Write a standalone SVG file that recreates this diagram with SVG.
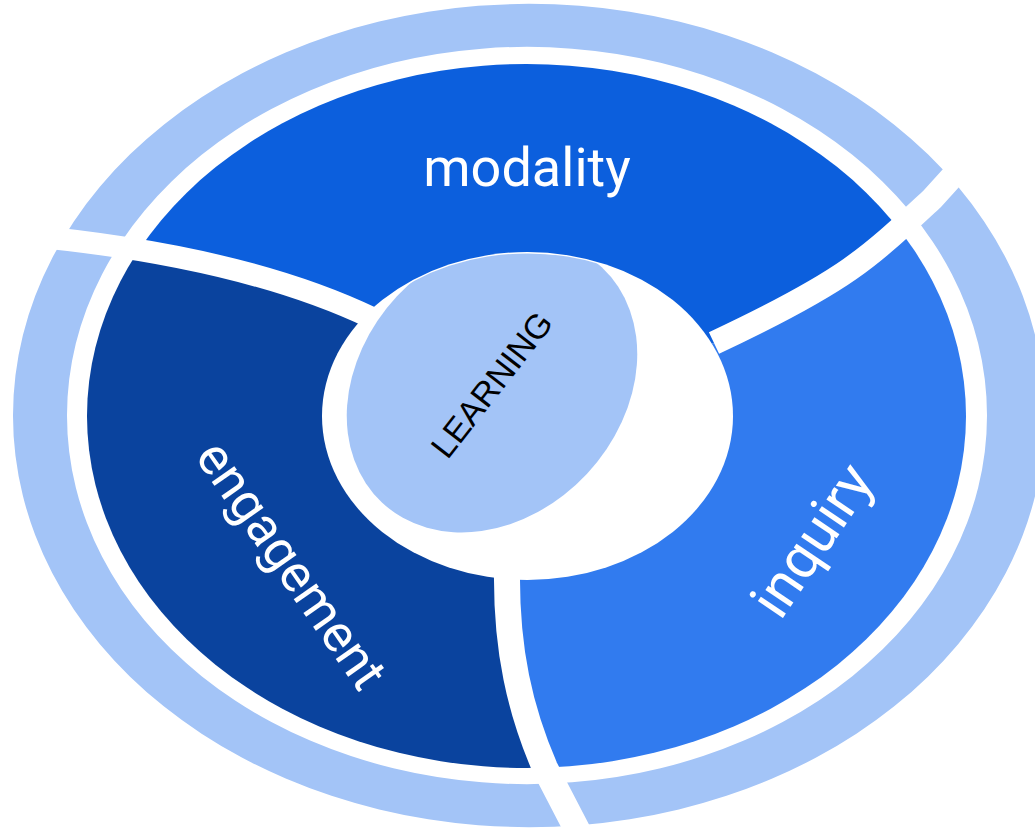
<svg xmlns="http://www.w3.org/2000/svg" width="1035" height="831" viewBox="0 0 1035 831">
<style>
.lbl{font-family:Roboto,"Liberation Sans",sans-serif;font-size:52px;fill:#ffffff;text-anchor:middle}
.gap{fill:none;stroke:#ffffff;stroke-linecap:butt}
</style>
<defs>
<clipPath id="innerClip"><ellipse cx="526.5" cy="416" rx="439.5" ry="352"/></clipPath>
<clipPath id="holeClip"><ellipse cx="527.5" cy="416" rx="204" ry="162.5"/></clipPath>
</defs>
<rect width="1035" height="831" fill="#ffffff"/>
<g id="ring">
<path fill="#a3c4f7" fill-rule="evenodd" d="M13,415.5 A516,411.5 0 1,0 1045,415.5 A516,411.5 0 1,0 13,415.5 Z M67,415.5 A460,368.5 0 1,0 987,415.5 A460,368.5 0 1,0 67,415.5 Z"/>
</g>
<g clip-path="url(#innerClip)">
<g id="modality">
<path fill="#0c5fdd" d="M527,416 L372,318 Q240,255 20,235 L0,235 L0,0 L1035,0 L1035,100 L985,140 L932,199 C905,224 880,248 850,269 C820,290 780,312 714,343 Z"/>
</g>
<g id="engagement">
<path fill="#0a439e" d="M527,416 L372,318 Q240,255 20,235 L0,235 L0,831 L575,831 L545,768 C520,710 506,650 507,570 Z"/>
</g>
<g id="inquiry">
<path fill="#317bef" d="M527,416 L507,570 C506,650 520,710 545,768 L575,831 L1035,831 L1035,100 L985,140 L932,199 C905,224 880,248 850,269 C820,290 780,312 714,343 Z"/>
</g>
</g>
<g id="separators">
<path class="gap" stroke-width="22" d="M372,318 Q240,255 20,235 L0,234"/>
<path class="gap" stroke-width="24" d="M714,343 C780,312 820,290 850,269 C880,248 905,224 932,199 L1000,124"/>
<path class="gap" stroke-width="26" d="M507,560 L507,570 C506,650 520,710 545,768 L585,845"/>
</g>
<g id="hole">
<ellipse cx="527.5" cy="416" rx="205.5" ry="164" fill="#ffffff"/>
</g>
<g id="learning">
<g clip-path="url(#holeClip)">
<ellipse cx="492" cy="385" rx="161" ry="130" transform="rotate(-47 492 385)" fill="#a3c4f7"/>
</g>
<text transform="translate(501,392) rotate(-52)" font-family="'Liberation Sans',Arial,sans-serif" font-size="34" fill="#000000" text-anchor="middle">LEARNING</text>
</g>
<g id="labels">
<text class="lbl" x="527" y="186" style="font-size:54px">modality</text>
<text class="lbl" transform="translate(277,575) rotate(55)">engagement</text>
<text class="lbl" transform="translate(828,551) rotate(-56)" style="font-size:57px">inquiry</text>
</g>
</svg>
